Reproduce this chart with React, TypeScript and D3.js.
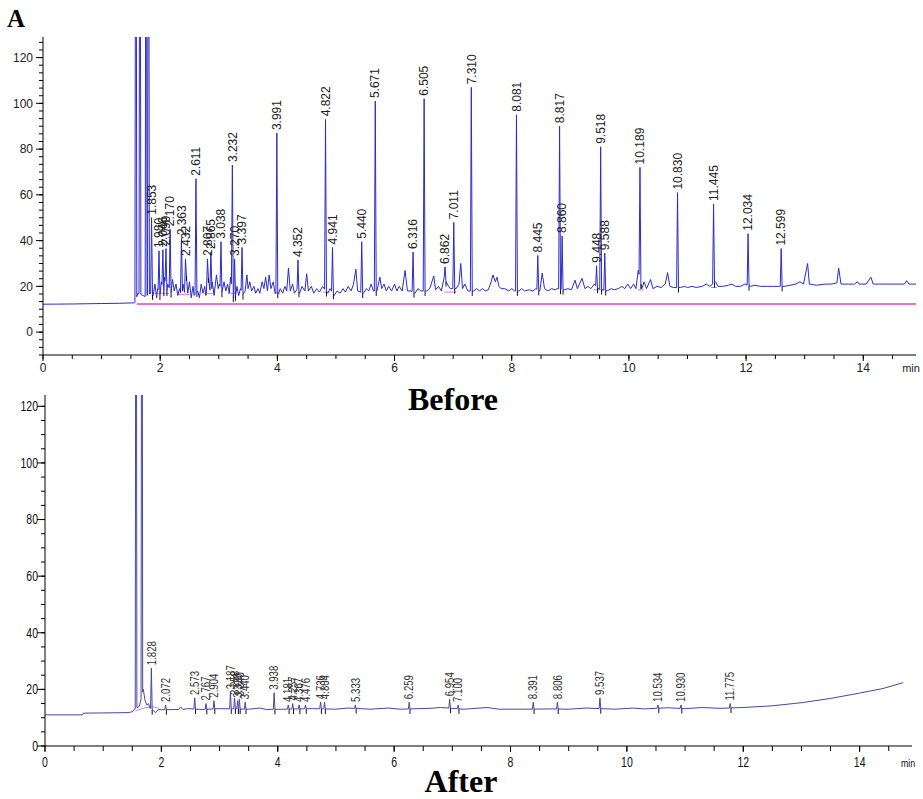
import React from "react";
import * as d3 from "d3";

// ---------- DATA ----------
const yTickValues = [0, 20, 40, 60, 80, 100, 120];
const xTickValues = [0, 2, 4, 6, 8, 10, 12, 14];

// "Before" chromatogram
const topSolvent: [number, number][] = [[1.585, 300], [1.655, 300], [1.76, 300], [1.8, 300]];
const topPeaks: [number, number][] = [
  [1.853, 50], [1.98, 35.5], [2.046, 36], [2.099, 36.5], [2.17, 45], [2.363, 41], [2.432, 32],
  [2.611, 67], [2.807, 32], [2.865, 35], [3.038, 39.5], [3.232, 73], [3.27, 32], [3.397, 37],
  [3.991, 87], [4.352, 31.5], [4.822, 93], [4.941, 37], [5.44, 39.5], [5.671, 101], [6.316, 35],
  [6.505, 102], [6.862, 28.5], [7.011, 48], [7.31, 107], [8.081, 95], [8.445, 33.5], [8.817, 90],
  [8.86, 42], [9.448, 29], [9.518, 81], [9.588, 34.5], [10.189, 72], [10.83, 61], [11.445, 56],
  [12.034, 43], [12.599, 36.5],
];
const topBase: [number, number][] = [
  [0, 12.2], [0.5, 12.3], [1.0, 12.5], [1.3, 12.6], [1.56, 12.8], [1.57, 12.9],
  [1.62, 17], [1.71, 16], [1.74, 15.5], [1.84, 17], [1.88, 16], [1.91, 21], [1.94, 15], [1.955, 19],
  [2.0, 16], [2.02, 22], [2.06, 17], [2.075, 24], [2.11, 17], [2.13, 21], [2.19, 17], [2.21, 23],
  [2.24, 18], [2.27, 21], [2.3, 16], [2.33, 19], [2.345, 17], [2.39, 21], [2.41, 16], [2.45, 25],
  [2.47, 17], [2.5, 22], [2.53, 15], [2.56, 20], [2.58, 16], [2.64, 18], [2.67, 15], [2.7, 21],
  [2.73, 17], [2.76, 20], [2.78, 16], [2.83, 25], [2.85, 18], [2.89, 22], [2.92, 16], [2.96, 25],
  [2.99, 19], [3.01, 21], [3.06, 17], [3.09, 22], [3.12, 18], [3.15, 21], [3.18, 17], [3.2, 24],
  [3.25, 15], [3.29, 16], [3.31, 20], [3.34, 16], [3.37, 19], [3.42, 16], [3.45, 18], [3.48, 25],
  [3.5, 19], [3.53, 22], [3.56, 18], [3.6, 20], [3.63, 17], [3.67, 19], [3.7, 17], [3.74, 22],
  [3.77, 19], [3.8, 24], [3.83, 18], [3.86, 25], [3.89, 19], [3.93, 22], [3.96, 17], [4.02, 17],
  [4.05, 19], [4.09, 17], [4.13, 20], [4.16, 18], [4.19, 28], [4.22, 18], [4.26, 21], [4.29, 17],
  [4.33, 19], [4.38, 17], [4.42, 20], [4.47, 18], [4.5, 25.5], [4.53, 18], [4.58, 20], [4.62, 17],
  [4.67, 19], [4.72, 17.5], [4.77, 20], [4.86, 17], [4.9, 19], [4.97, 16], [5.02, 18], [5.07, 17],
  [5.12, 19], [5.16, 17.5], [5.21, 20], [5.26, 18], [5.3, 21], [5.34, 27.5], [5.37, 18], [5.47, 17],
  [5.52, 19], [5.56, 18], [5.6, 21], [5.64, 18], [5.7, 18], [5.75, 24], [5.78, 19], [5.82, 21],
  [5.86, 18], [5.9, 20], [5.95, 18], [6.0, 21], [6.04, 18], [6.08, 20], [6.13, 18], [6.18, 27],
  [6.22, 18], [6.28, 18], [6.35, 17], [6.4, 19], [6.45, 18], [6.55, 18], [6.6, 19], [6.67, 24.5],
  [6.7, 18.5], [6.75, 20], [6.8, 18], [6.84, 24], [6.9, 21], [6.95, 19], [7.05, 19], [7.1, 21],
  [7.13, 30], [7.16, 19], [7.2, 21], [7.25, 18], [7.35, 18], [7.4, 19], [7.45, 18], [7.5, 19],
  [7.55, 18], [7.6, 18.5], [7.65, 22], [7.68, 25], [7.72, 22], [7.75, 24], [7.78, 20], [7.82, 19],
  [7.88, 19], [7.95, 18], [8.0, 19], [8.05, 18], [8.12, 18], [8.17, 19], [8.22, 18], [8.3, 18.5],
  [8.36, 18], [8.41, 19], [8.48, 18], [8.52, 25.8], [8.56, 19], [8.62, 18], [8.68, 19], [8.74, 18.5],
  [8.78, 19], [8.9, 18.5], [8.96, 19], [9.02, 18.5], [9.08, 22.7], [9.12, 19], [9.2, 23.5], [9.25, 19],
  [9.3, 20], [9.35, 19], [9.41, 21], [9.47, 19], [9.55, 18.5], [9.63, 18], [9.7, 19], [9.75, 18.5],
  [9.82, 19], [9.88, 20], [9.93, 19], [9.98, 21], [10.03, 19], [10.08, 21], [10.12, 19], [10.16, 27],
  [10.22, 19], [10.26, 22], [10.3, 19], [10.37, 23], [10.41, 19], [10.48, 20], [10.55, 19.5],
  [10.62, 21], [10.66, 26], [10.7, 20], [10.76, 19.5], [10.88, 19.5], [10.95, 20], [11.0, 19.5],
  [11.08, 20], [11.15, 19.5], [11.25, 20], [11.32, 21], [11.38, 20], [11.48, 22], [11.52, 20],
  [11.6, 20], [11.7, 20.5], [11.76, 21], [11.82, 20], [11.9, 20], [11.98, 21], [12.08, 20],
  [12.15, 20.5], [12.25, 20], [12.35, 20], [12.45, 20], [12.55, 20], [12.65, 20], [12.75, 20.5],
  [12.85, 21], [12.92, 22], [12.98, 21], [13.05, 30], [13.08, 21], [13.2, 20.5], [13.35, 21],
  [13.45, 21], [13.55, 21.5], [13.58, 28], [13.62, 21], [13.75, 21], [13.85, 21], [13.9, 22],
  [13.93, 21], [14.05, 21], [14.13, 24], [14.17, 21], [14.3, 21], [14.5, 21], [14.7, 21],
  [14.74, 22.5], [14.78, 21], [14.9, 21],
];
const topIntegration: [number, number, number][] = [
  [1.9, 2.15, 17], [2.3, 2.5, 16.5], [2.75, 2.9, 16.8], [3.15, 3.3, 17], [3.95, 4.05, 17],
  [4.78, 4.88, 17.5], [6.85, 7.05, 17.5], [9.4, 9.6, 18.5], [10.15, 10.25, 18.5], [11.4, 11.5, 19.5],
];
const topMagentaLevel = 12.3;

// "After" chromatogram
const bottomSolvent: [number, number][] = [[1.565, 300], [1.665, 300]];
const bottomPeaks: [number, number][] = [
  [1.828, 27.5], [2.072, 14.5], [2.573, 17], [2.767, 15], [2.904, 16], [3.187, 19], [3.258, 17],
  [3.31, 16], [3.34, 16.5], [3.44, 15.5], [3.938, 18.8], [4.181, 14.5], [4.257, 15], [4.367, 14.5],
  [4.476, 14.5], [4.736, 15.5], [4.804, 15.5], [5.333, 14.5], [6.259, 15.5], [6.954, 16.5],
  [7.1, 14.5], [8.391, 15.5], [8.806, 15.5], [9.537, 17], [10.534, 14.5], [10.93, 14.5], [11.775, 15],
];
const bottomBase: [number, number][] = [
  [0, 11], [0.64, 11], [0.66, 11.6], [1.45, 11.8], [1.51, 12.2], [1.53, 13], [1.55, 13.2],
  [1.62, 14], [1.69, 20], [1.72, 16], [1.75, 14.5], [1.78, 15], [1.8, 13.5], [1.86, 12.5],
  [1.9, 11.8], [1.95, 13], [2.0, 12.8], [2.3, 12.9], [2.33, 13.8], [2.37, 12.9], [2.45, 13.2],
  [2.7, 12.9], [3.0, 13.2], [3.5, 13], [3.7, 13.4], [3.8, 12.9], [4.1, 13], [4.6, 13.2], [5.0, 13],
  [5.2, 13.4], [5.6, 13], [5.9, 13.4], [6.1, 13], [6.6, 13.3], [6.8, 13.6], [7.2, 13], [7.6, 13.6],
  [7.8, 13], [8.2, 13], [8.7, 13.1], [9.0, 13], [9.3, 13.4], [9.8, 13], [10.1, 13.4], [10.3, 13.1],
  [10.7, 13.5], [11.0, 13.2], [11.3, 13.6], [11.6, 13.3], [12.0, 13.6], [12.5, 14.2], [13.0, 15.3],
  [13.5, 16.8], [14.0, 18.7], [14.4, 20.3], [14.75, 22.4],
];
const bottomLavender: [number, number][] = [[1.55, 12.4], [1.7, 13.4], [1.85, 13.9], [1.95, 13.4]];

// ---------- helpers ----------
function buildTrace(base: [number, number][], peaks: [number, number][], hw: number) {
  const interp = d3.scaleLinear().domain(base.map((d) => d[0])).range(base.map((d) => d[1]));
  const kept = base.filter(([t]) => !peaks.some(([p]) => t > p - hw * 1.5 && t < p + hw * 1.5));
  const pts: [number, number][] = [...kept];
  peaks.forEach(([t, h]) => {
    pts.push([t - hw, interp(t - hw)], [t, h], [t + hw, interp(t + hw)]);
  });
  pts.sort((a, b) => a[0] - b[0]);
  return { pts, interp };
}

const W = 923;
const H = 799;

export default function App() {
  // top scales
  const xT = d3.scaleLinear().domain([0, 14.9]).range([43, 916]);
  const yT = d3.scaleLinear().domain([-10, 129]).range([355, 37]);
  // bottom scales
  const xB = d3.scaleLinear().domain([0, 14.9]).range([45, 912]);
  const yB = d3.scaleLinear().domain([0, 124]).range([746, 395]);

  const top = buildTrace(topBase, [...topSolvent, ...topPeaks], 0.016);
  const bot = buildTrace(bottomBase, [...bottomSolvent, ...bottomPeaks], 0.014);

  const lineT = d3.line<[number, number]>().x((d) => xT(d[0])).y((d) => yT(d[1]));
  const lineB = d3.line<[number, number]>().x((d) => xB(d[0])).y((d) => yB(d[1]));

  const minorX = d3.range(0, 30).map((i) => i * 0.5).filter((v) => v <= 14.9);
  const minorYT = d3.range(0, 42).map((i) => -10 + (i * 10) / 3).filter((v) => v <= 129);
  const minorYB = d3.range(0, 25).map((i) => i * 5).filter((v) => v <= 124);

  const sans = "'Liberation Sans', Arial, sans-serif";
  const serif = "'Liberation Serif', 'Times New Roman', serif";

  return (
    <svg width={W} height={H} style={{ position: "absolute", left: 0, top: 0, background: "#fff" }}>
      <defs>
        <clipPath id="clipT">
          <rect x={43} y={37} width={880} height={318} />
        </clipPath>
        <clipPath id="clipB">
          <rect x={45} y={395} width={880} height={351} />
        </clipPath>
      </defs>
      <rect x={0} y={0} width={W} height={H} fill="#fff" />

      {/* panel letter */}
      <text x={7} y={27} fontFamily={serif} fontWeight="bold" fontSize={25} fill="#000">A</text>

      {/* ===== TOP CHART ===== */}
      <g clipPath="url(#clipT)">
        <line x1={xT(1.6)} x2={xT(14.9)} y1={yT(topMagentaLevel)} y2={yT(topMagentaLevel)} stroke="#dd44cc" strokeWidth={1.3} />
        {topIntegration.map(([a, b, v], i) => (
          <line key={"ti" + i} x1={xT(a)} x2={xT(b)} y1={yT(v)} y2={yT(v)} stroke="#e070d8" strokeWidth={1} />
        ))}
        <path d={lineT(top.pts) || ""} fill="none" stroke="#2b2bcc" strokeWidth={1} strokeLinejoin="round" />
        {topPeaks.map(([t], i) => (
          <line key={"tm" + i} x1={xT(t + 0.016)} x2={xT(t + 0.016)} y1={yT(top.interp(t + 0.016))} y2={yT(top.interp(t + 0.016)) + 5} stroke="#111" strokeWidth={1} />
        ))}
      </g>
      {topPeaks.map(([t, h], i) => (
        <text key={"tl" + i} transform={`translate(${xT(t)},${yT(h) - 3}) rotate(-90)`} dy="0.35em" fontFamily={sans} fontSize={12} fill="#222">
          {t.toFixed(3)}
        </text>
      ))}
      {/* axes */}
      <line x1={43} x2={43} y1={37} y2={355} stroke="#000" strokeWidth={1} />
      <line x1={43} x2={916} y1={355} y2={355} stroke="#000" strokeWidth={1} />
      {minorYT.map((v, i) => (
        <line key={"tym" + i} x1={39} x2={43} y1={yT(v)} y2={yT(v)} stroke="#000" />
      ))}
      {yTickValues.map((v) => (
        <g key={"tyt" + v}>
          <line x1={36} x2={43} y1={yT(v)} y2={yT(v)} stroke="#000" />
          <text x={33} y={yT(v)} dy="0.35em" textAnchor="end" fontFamily={sans} fontSize={12} fill="#222">{v}</text>
        </g>
      ))}
      {minorX.map((v, i) => (
        <line key={"txm" + i} x1={xT(v)} x2={xT(v)} y1={355} y2={359} stroke="#000" />
      ))}
      {xTickValues.map((v) => (
        <g key={"txt" + v}>
          <line x1={xT(v)} x2={xT(v)} y1={355} y2={361} stroke="#000" />
          <text x={xT(v)} y={372} textAnchor="middle" fontFamily={sans} fontSize={12} fill="#222">{v}</text>
        </g>
      ))}
      <text x={911} y={372} textAnchor="middle" fontFamily={sans} fontSize={11} fill="#222">min</text>
      <text x={453} y={410} textAnchor="middle" fontFamily={serif} fontWeight="bold" fontSize={32} fill="#000">Before</text>

      {/* ===== BOTTOM CHART ===== */}
      <g clipPath="url(#clipB)">
        <path d={lineB(bottomLavender) || ""} fill="none" stroke="#c08ae0" strokeWidth={1} />
        <path d={lineB(bot.pts) || ""} fill="none" stroke="#4646a6" strokeWidth={1} strokeLinejoin="round" />
        {bottomPeaks.map(([t], i) => (
          <line key={"bm" + i} x1={xB(t + 0.014)} x2={xB(t + 0.014)} y1={yB(bot.interp(t + 0.014))} y2={yB(bot.interp(t + 0.014)) + 5} stroke="#111" strokeWidth={1} />
        ))}
      </g>
      {bottomPeaks.map(([t, h], i) => (
        <text key={"bl" + i} transform={`translate(${xB(t)},${yB(h) - 3}) rotate(-90) scale(0.8,1)`} dy="0.35em" fontFamily={sans} fontSize={12} fill="#333">
          {t.toFixed(3)}
        </text>
      ))}
      <line x1={45} x2={45} y1={395} y2={746} stroke="#000" strokeWidth={1} />
      <line x1={45} x2={912} y1={746} y2={746} stroke="#000" strokeWidth={1} />
      {minorYB.map((v, i) => (
        <line key={"bym" + i} x1={41} x2={45} y1={yB(v)} y2={yB(v)} stroke="#000" />
      ))}
      {yTickValues.map((v) => (
        <g key={"byt" + v}>
          <line x1={37} x2={45} y1={yB(v)} y2={yB(v)} stroke="#000" />
          <text transform={`translate(38,${yB(v)}) scale(0.75,1)`} dy="0.35em" textAnchor="end" fontFamily={sans} fontSize={14} fill="#111">{v}</text>
        </g>
      ))}
      {minorX.map((v, i) => (
        <line key={"bxm" + i} x1={xB(v)} x2={xB(v)} y1={746} y2={751} stroke="#000" />
      ))}
      {xTickValues.map((v) => (
        <g key={"bxt" + v}>
          <line x1={xB(v)} x2={xB(v)} y1={746} y2={752} stroke="#000" />
          <text transform={`translate(${xB(v)},767) scale(0.75,1)`} textAnchor="middle" fontFamily={sans} fontSize={14} fill="#111">{v}</text>
        </g>
      ))}
      <text transform="translate(908,767) scale(0.8,1)" textAnchor="middle" fontFamily={sans} fontSize={11} fill="#111">min</text>
      <text x={461} y={792} textAnchor="middle" fontFamily={serif} fontWeight="bold" fontSize={32} fill="#000">After</text>
    </svg>
  );
}
